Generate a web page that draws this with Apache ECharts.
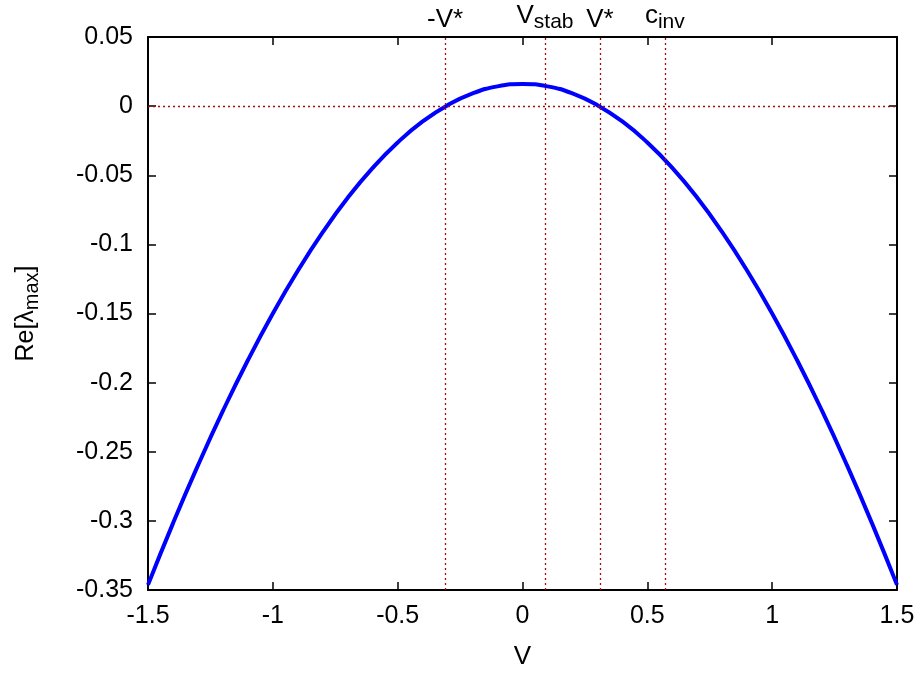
<!doctype html>
<html>
<head>
<meta charset="UTF-8">
<script src="https://cdn.jsdelivr.net/npm/echarts@6/dist/echarts.min.js"></script>
</head>
<body style="margin:0">
<div id="main" style="width:922px;height:675px;background:#fff;"></div>
<script>
// values
var vValues = [-1.5, -1.4, -1.3, -1.2, -1.1, -1.0, -0.9, -0.8, -0.7, -0.6, -0.5, -0.4, -0.3, -0.2, -0.1, 0,
               0.1, 0.2, 0.3, 0.4, 0.5, 0.6, 0.7, 0.8, 0.9, 1.0, 1.1, 1.2, 1.3, 1.4, 1.5];
var reValues = [-0.3463, -0.3018, -0.2599, -0.2205, -0.1838, -0.1500, -0.1191, -0.0912, -0.0663, -0.0447,
                -0.0263, -0.0111, 0.0007, 0.0092, 0.0143, 0.0160,
                0.0143, 0.0092, 0.0007, -0.0111, -0.0263, -0.0447, -0.0663, -0.0912, -0.1191, -0.1500,
                -0.1838, -0.2205, -0.2599, -0.3018, -0.3463];
var markerNames = ['-V*', 'V{s|stab}', 'V*', 'c{s|inv}'];
var markerPos = [-0.308, 0.093, 0.308, 0.566];

var font = 'Liberation Sans';
var red = '#a01010';

var lineData = vValues.map(function (v, i) { return [v, reValues[i]]; });

var marks = markerPos.map(function (x, i) {
    return {
        xAxis: x,
        label: {
            show: true,
            position: 'end',
            distance: 4,
            formatter: markerNames[i],
            color: '#000',
            fontFamily: font,
            fontSize: 26,
            rich: {
                s: { fontFamily: font, fontSize: 21, padding: [14, 0, 0, 0], color: '#000' }
            }
        }
    };
});
marks.push({ yAxis: 0, label: { show: false } });

var tickStyle = { show: true, inside: true, length: 8, lineStyle: { color: '#000', width: 1.5 } };
var lineStyleAxis = { show: true, onZero: false, lineStyle: { color: '#000', width: 2 } };

var myChart = echarts.init(document.getElementById('main'));
var option = {
    animation: false,
    backgroundColor: '#fff',
    grid: { left: 148, right: 25, top: 37, bottom: 78 },
    xAxis: [{
        type: 'value',
        min: -1.5,
        max: 1.5,
        interval: 0.5,
        name: 'V',
        nameLocation: 'middle',
        nameGap: 54,
        nameTextStyle: { fontFamily: font, fontSize: 26, color: '#000' },
        axisLine: lineStyleAxis,
        axisTick: tickStyle,
        axisLabel: { fontFamily: font, fontSize: 25, color: '#000', margin: 14 },
        splitLine: { show: false }
    }, {
        type: 'value',
        position: 'top',
        min: -1.5,
        max: 1.5,
        interval: 0.5,
        axisLine: lineStyleAxis,
        axisTick: tickStyle,
        axisLabel: { show: false },
        splitLine: { show: false }
    }],
    yAxis: [{
        type: 'value',
        min: -0.35,
        max: 0.05,
        interval: 0.05,
        name: '{a|Re[λ}{s|max}{a|]}',
        nameLocation: 'middle',
        nameRotate: 90,
        nameGap: 106,
        nameTextStyle: {
            rich: {
                a: { fontFamily: font, fontSize: 25, color: '#000' },
                s: { fontFamily: font, fontSize: 20, color: '#000', padding: [12, 0, 0, 0] }
            }
        },
        axisLine: lineStyleAxis,
        axisTick: tickStyle,
        axisLabel: { fontFamily: font, fontSize: 25, color: '#000', margin: 15 },
        splitLine: { show: false }
    }, {
        type: 'value',
        position: 'right',
        min: -0.35,
        max: 0.05,
        interval: 0.05,
        axisLine: lineStyleAxis,
        axisTick: tickStyle,
        axisLabel: { show: false },
        splitLine: { show: false }
    }],
    series: [{
        type: 'line',
        data: lineData,
        smooth: true,
        showSymbol: false,
        lineStyle: { color: '#0000ff', width: 4 },
        markLine: {
            silent: true,
            symbol: ['none', 'none'],
            lineStyle: { color: red, type: [2, 3], width: 1.3 },
            data: marks
        }
    }]
};
myChart.setOption(option);
</script>
</body>
</html>
